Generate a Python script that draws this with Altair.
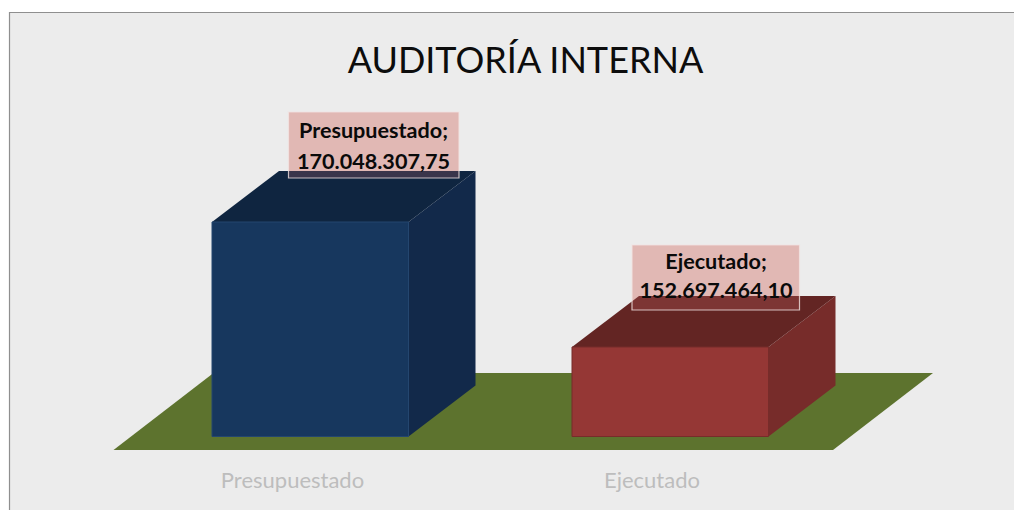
import altair as alt
import pandas as pd

categories = ["Presupuestado", "Ejecutado"]
values = [170048307.75, 152697464.10]
value_labels = ["170.048.307,75", "152.697.464,10"]
front_colors = ["#17375e", "#953735"]
front_strokes = ["#24466f", "#772c2a"]
top_colors = ["#0f2540", "#632523"]
side_colors = ["#12294a", "#772c2a"]
title_text = "AUDITORÍA INTERNA"

W, H = 1006, 502
PER_PX = (values[0] - values[1]) / 125.0
BASE_PX = 436.5
BASE = values[0] - (BASE_PX - 222) * PER_PX
YMIN = BASE - (510 - BASE_PX) * PER_PX
YMAX = YMIN + H * PER_PX


def vy(py):
    """image row -> value on the y scale"""
    return BASE - (py - BASE_PX) * PER_PX


def vx(px):
    return px - 8


xs = alt.Scale(domain=[0, W], range=[0, W], nice=False, zero=False)
ys = alt.Scale(domain=[YMIN, YMAX], range=[H, 0], nice=False, zero=False)
X = alt.X("x:Q", scale=xs, axis=None)
Y = alt.Y("y:Q", scale=ys, axis=None)
X2 = alt.X2("x2:Q")
Y2 = alt.Y2("y2:Q")

layers = []

# frame
frame = pd.DataFrame([{"x": vx(9.5), "x2": vx(1030), "y": vy(12.5), "y2": vy(512)}])
layers.append(alt.Chart(frame).mark_rect(fill="#ececec", stroke="#8f8f8f", strokeWidth=1.2, clip=True).encode(x=X, x2=X2, y=Y, y2=Y2))

# data label boxes: the opaque part sits behind the bars
boxes = pd.DataFrame([
    {"x": vx(288.5), "x2": vx(459), "y": vy(112), "y2": vy(178)},
    {"x": vx(632), "x2": vx(799.5), "y": vy(245), "y2": vy(310)},
])
layers.append(alt.Chart(boxes).mark_rect(fill="#e0c9c3").encode(x=X, x2=X2, y=Y, y2=Y2))

# floor
DX, DY = 67, 51
floor = pd.DataFrame([
    {"x": vx(113.5), "x2": vx(833), "y": vy(450)},
    {"x": vx(213.5), "x2": vx(933), "y": vy(373)},
])
layers.append(alt.Chart(floor).mark_area(orient="horizontal", color="#5d732e").encode(x=X, x2=X2, y=Y))

lefts = [212, 572]
BW = 196.5
for left, val, fc, fs, tc, sc in zip(lefts, values, front_colors, front_strokes, top_colors, side_colors):
    right = left + BW
    side = pd.DataFrame([
        {"x": vx(right), "y": val, "y2": BASE},
        {"x": vx(right + DX), "y": val + DY * PER_PX, "y2": BASE + DY * PER_PX},
    ])
    layers.append(alt.Chart(side).mark_area(orient="vertical", color=sc).encode(x=X, y=Y, y2=Y2))
    top = pd.DataFrame([
        {"x": vx(left), "x2": vx(right), "y": val},
        {"x": vx(left + DX), "x2": vx(right + DX), "y": val + DY * PER_PX},
    ])
    layers.append(alt.Chart(top).mark_area(orient="horizontal", color=tc).encode(x=X, x2=X2, y=Y))
    front = pd.DataFrame([{"x": vx(left), "x2": vx(right), "y": val, "y2": BASE}])
    layers.append(alt.Chart(front).mark_rect(fill=fc, stroke=fs, strokeWidth=1).encode(x=X, x2=X2, y=Y, y2=Y2))

# translucent part of the label boxes, above the bars
layers.append(alt.Chart(boxes).mark_rect(fill="#e67878", fillOpacity=0.2, stroke="#f2e4e2", strokeOpacity=0.8, strokeWidth=1.2).encode(x=X, x2=X2, y=Y, y2=Y2))

lab = pd.DataFrame([
    {"x": vx(373.5), "y": vy(132), "t": categories[0] + ";"},
    {"x": vx(373.5), "y": vy(162.5), "t": value_labels[0]},
    {"x": vx(716), "y": vy(263), "t": categories[1] + ";"},
    {"x": vx(716), "y": vy(292), "t": value_labels[1]},
])
layers.append(alt.Chart(lab).mark_text(font="Lato", fontWeight="bold", fontSize=21.6, color="#0a0a0a", align="center", baseline="middle").encode(x=X, y=Y, text="t:N"))

# category labels
cat = pd.DataFrame([
    {"x": vx(292.5), "y": vy(481), "t": categories[0]},
    {"x": vx(652), "y": vy(481), "t": categories[1]},
])
layers.append(alt.Chart(cat).mark_text(font="Lato", fontSize=22, color="#bdbdbd", align="center", baseline="middle").encode(x=X, y=Y, text="t:N"))

# title
ttl = pd.DataFrame([{"x": vx(525.5), "y": vy(62), "t": title_text}])
layers.append(alt.Chart(ttl).mark_text(font="Lato", fontSize=36, color="#0d0d0d", align="center", baseline="middle").encode(x=X, y=Y, text="t:N"))

chart = alt.layer(*layers).properties(
    width=W, height=H, padding=0, autosize=alt.AutoSizeParams(type="none"), background="white"
).configure_view(stroke=None)

chart.save("out.html", embed_options={"renderer": "svg", "actions": False})
